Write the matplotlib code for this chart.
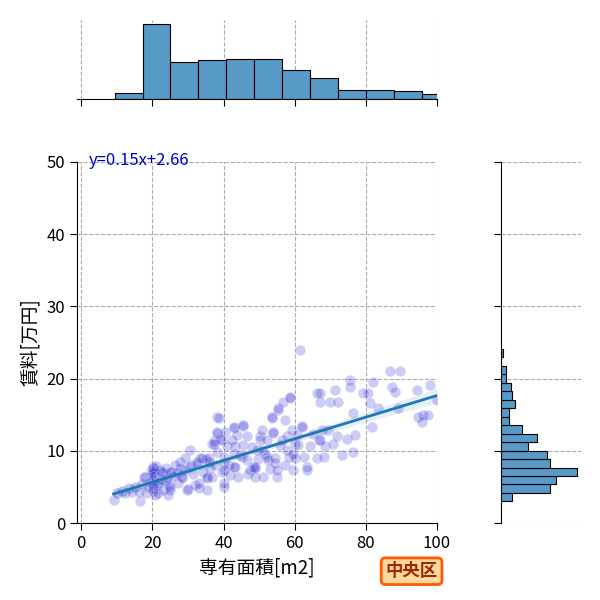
import numpy as np
import matplotlib
matplotlib.use("Agg")
import matplotlib.pyplot as plt

plt.rcParams['font.family'] = ['Noto Sans CJK JP', 'DejaVu Sans']

# 散布図のデータ (専有面積 m2, 賃料 万円)
area = [
    9.1, 10.0, 11.5, 12.4, 13.5, 14.2, 15.0, 16.1, 16.6, 17.0, 17.5, 18.0, 18.3, 18.9, 19.4, 19.5,
    20.1, 20.1, 20.1, 20.1, 20.1, 20.1, 20.1, 20.3, 20.5, 20.8, 21.0, 21.2, 21.7, 21.7, 22.0, 22.5,
    22.7, 22.7, 23.1, 23.5, 23.8, 24.1, 24.5, 24.6, 25.0, 25.0, 25.0, 25.2, 25.8, 26.3, 26.9, 27.3,
    27.8, 27.8, 28.3, 28.3, 28.8, 29.3, 29.7, 29.9, 30.3,
    30.6, 30.9, 31.5, 32.0, 32.5, 32.5, 33.0, 33.0, 33.4, 33.9, 34.3, 35.0, 35.3, 35.3, 35.3, 35.8,
    35.8, 36.2, 36.7, 36.7, 37.2, 37.2, 37.6, 38.1, 38.1, 38.1, 38.1, 38.6, 39.0, 39.5, 39.5, 40.0,
    40.0, 40.0, 40.0, 40.0, 40.5, 40.9, 41.5, 41.9, 42.3, 42.8, 42.8, 42.8, 42.8, 43.3, 43.3, 43.8,
    44.2, 44.6, 45.1, 45.6, 45.6, 45.6,
    46.5, 46.5, 47.0, 47.5, 47.9, 48.4, 48.9, 48.9, 48.9, 49.3, 49.8, 50.3, 50.3, 50.7, 50.8, 51.2,
    51.7, 52.2, 52.2, 52.6, 53.1, 53.6, 53.6, 54.0, 54.0, 54.5, 54.5, 55.0, 55.0, 55.4, 55.4, 55.9,
    56.4, 56.8, 57.3, 57.3, 57.8, 57.8, 58.3, 58.7, 58.7, 59.2, 59.6, 59.6, 60.1, 60.1, 60.6, 61.0,
    61.5, 62.0, 62.0,
    62.5, 63.4, 63.4, 64.3, 65.2, 66.2, 66.2, 66.7, 67.1, 67.1, 67.1, 67.6, 68.1, 68.5, 69.5, 69.9,
    70.9, 71.3, 71.8, 72.3, 73.2, 74.6, 75.6, 75.6, 76.5, 76.5, 77.0, 79.3, 80.7, 81.2, 81.6, 82.1,
    83.5, 86.8, 87.3, 88.3, 89.1, 89.6, 94.3, 94.8, 95.7, 96.2, 97.6, 98.0, 99.9,
]
rent = [
    3.2, 4.2, 4.5, 4.1, 4.8, 4.3, 5.0, 4.3, 3.0, 5.4, 6.4, 6.4, 4.1, 5.0, 5.7, 7.2,
    7.8, 7.6, 7.1, 6.9, 6.0, 5.2, 4.8, 4.4, 6.5, 3.9, 7.9, 5.3, 5.5, 4.1, 7.4, 6.0,
    6.9, 7.1, 4.6, 5.8, 7.6, 6.2, 3.9, 5.2, 7.1, 5.0, 4.6, 7.1, 6.5, 8.0, 6.9, 5.5,
    7.6, 8.5, 6.2, 6.4, 7.3, 9.0, 4.6, 4.7, 7.8,
    10.1, 8.0, 6.8, 5.2, 8.2, 8.5, 5.5, 4.8, 9.0, 9.0, 7.0, 8.8, 6.2, 6.4, 4.6, 8.5,
    9.0, 7.6, 11.0, 6.4, 11.3, 11.0, 8.0, 12.6, 12.4, 9.9, 14.7, 14.5, 11.7, 11.5, 7.0, 9.2,
    8.3, 7.3, 5.5, 5.0, 12.6, 10.6, 8.0, 6.6, 11.5, 13.1, 13.3, 9.6, 7.8, 10.6, 7.8, 12.2,
    6.4, 9.4, 9.2, 13.4, 13.6, 10.8,
    8.7, 12.0, 6.8, 7.3, 10.5, 7.8, 7.8, 7.6, 6.4, 10.1, 8.8, 12.0, 11.5, 12.9, 10.1, 6.4,
    9.5, 11.5, 9.2, 8.7, 7.5, 14.5, 14.7, 12.4, 12.6, 8.3, 9.0, 6.4, 7.3, 15.7, 15.9, 10.8,
    11.5, 16.8, 14.3, 8.0, 12.0, 10.1, 9.2, 17.3, 17.5, 12.9, 9.6, 7.3, 11.0, 9.0, 12.2, 10.8,
    24.0, 13.4, 13.3,
    9.2, 7.3, 7.8, 10.6, 12.3, 18.0, 9.0, 11.5, 16.8, 18.0, 11.5, 12.9, 9.2, 10.6, 12.9, 16.8,
    11.0, 18.4, 12.0, 16.8, 9.4, 11.7, 19.8, 18.9, 15.2, 9.9, 12.2, 18.0, 18.0, 16.6, 13.3, 19.6,
    15.9, 21.0, 18.9, 18.2, 15.9, 21.1, 18.4, 14.7, 14.0, 14.9, 14.9, 19.1, 17.0,
]

# 回帰式
slope = 0.15
intercept = 2.66

# 周辺ヒストグラム (図から読んだ度数)
x_bin_start = 9.36
x_bin_width = 7.86
x_counts = [5, 64, 31, 33, 34, 34, 25, 18, 8, 8, 7, 4]

y_bin_start = 3.0
y_bin_width = 1.172
y_counts = [7, 31, 35, 48, 31, 29, 17, 23, 13, 5, 5, 9, 7, 6, 3, 3, 0, 1]

ward = "中央区"

x = np.array(area)
y = np.array(rent)

fig = plt.figure(figsize=(6, 6), dpi=100)
ax = fig.add_axes([0.1283, 0.1283, 0.6, 0.6017])
ax_top = fig.add_axes([0.1283, 0.835, 0.6, 0.132], sharex=ax)
ax_right = fig.add_axes([0.835, 0.1283, 0.133, 0.6017], sharey=ax)

grid_kw = dict(color='#aaaaaa', linestyle='--', linewidth=0.8)
bar_color = '#5799c7'

# 散布図
ax.scatter(x, y, s=58, color='mediumblue', alpha=0.2, edgecolors='white', linewidths=0.75, zorder=2)

# 回帰直線と信頼区間
xs = np.linspace(x.min(), x.max(), 100)
fit = slope * xs + intercept
resid = y - (slope * x + intercept)
s_err = np.sqrt(np.sum(resid ** 2) / (len(x) - 2))
ci = 1.96 * s_err * np.sqrt(1 / len(x) + (xs - x.mean()) ** 2 / np.sum((x - x.mean()) ** 2))
ax.fill_between(xs, fit - ci, fit + ci, color='tab:blue', alpha=0.12, lw=0, zorder=3)
ax.plot(xs, fit, color='tab:blue', lw=2, zorder=4)

ax.text(2, 50.2, f"y={slope:.2f}x+{intercept:.2f}", color='mediumblue', fontsize=12,
        va='center', ha='left', zorder=5)

ax.set_xlim(-1.2, 100)
ax.set_ylim(0, 50)
ax.set_xticks(range(0, 101, 20))
ax.set_yticks(range(0, 51, 10))
ax.grid(True, **grid_kw)
ax.set_axisbelow(True)
ax.set_xlabel("専有面積[m2]", fontsize=13.5)
ax.set_ylabel("賃料[万円]", fontsize=13.5)
ax.tick_params(labelsize=12, length=5)
ax.spines['top'].set_visible(False)
ax.spines['right'].set_visible(False)

# 上のヒストグラム
x_edges = x_bin_start + x_bin_width * np.arange(len(x_counts))
ax_top.bar(x_edges, x_counts, width=x_bin_width, align='edge', color=bar_color,
           edgecolor='black', linewidth=0.8)
ax_top.xaxis.grid(True, **grid_kw)
ax_top.set_axisbelow(True)
ax_top.tick_params(axis='x', labelbottom=False, length=5)
ax_top.tick_params(axis='y', left=False, labelleft=False)
for side in ['top', 'right', 'left']:
    ax_top.spines[side].set_visible(False)

# 右のヒストグラム
y_edges = y_bin_start + y_bin_width * np.arange(len(y_counts))
ax_right.barh(y_edges, y_counts, height=y_bin_width, align='edge', color=bar_color,
              edgecolor='black', linewidth=0.8)
ax_right.yaxis.grid(True, **grid_kw)
ax_right.set_axisbelow(True)
ax_right.tick_params(axis='y', labelleft=False, length=5)
ax_right.tick_params(axis='x', bottom=False, labelbottom=False)
for side in ['top', 'right', 'bottom']:
    ax_right.spines[side].set_visible(False)

fig.text(0.686, 0.048, ward, fontsize=12.5, fontweight='bold', color='#a02800',
         ha='center', va='center',
         bbox=dict(boxstyle='round,pad=0.25', facecolor='#ffd8a0', edgecolor='#ff5a00', linewidth=2))

fig.savefig("out.png", dpi=100)
